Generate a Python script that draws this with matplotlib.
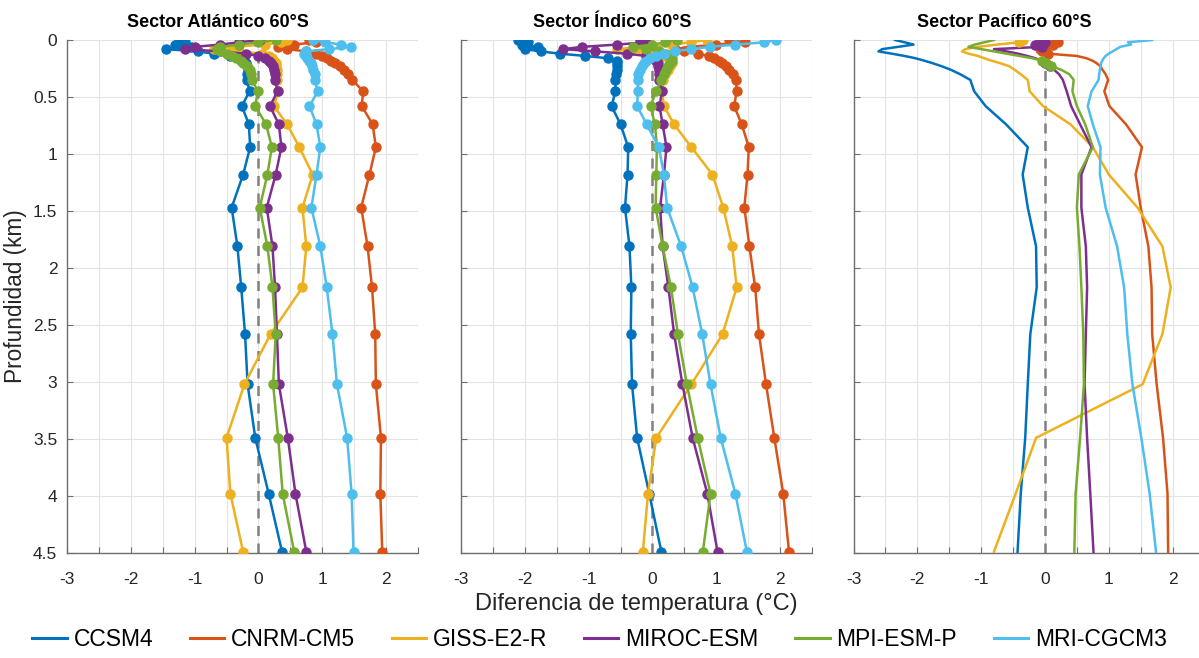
import matplotlib
matplotlib.use('Agg')
import matplotlib.pyplot as plt
from matplotlib.lines import Line2D

plt.rcParams['font.family'] = ['Liberation Sans', 'DejaVu Sans']

models = ['CCSM4', 'CNRM-CM5', 'GISS-E2-R', 'MIROC-ESM', 'MPI-ESM-P', 'MRI-CGCM3']
colors = ['#0072BD', '#D95319', '#EDB120', '#7E2F8E', '#77AC30', '#4DBEEE']
titles = ['Sector Atlántico 60°S', 'Sector Índico 60°S', 'Sector Pacífico 60°S']

# depth levels (km)
depth = [0.00, 0.02, 0.04, 0.06, 0.08, 0.10, 0.12, 0.14, 0.16, 0.18, 0.20, 0.23, 0.26, 0.30,
         0.35, 0.45, 0.58, 0.74, 0.94, 1.18, 1.47, 1.81, 2.17, 2.58, 3.02, 3.49, 3.98, 4.49]

# Atlantic sector
ccsm4_atl = [-1.25, -1.15, -1.30, -1.05, -1.45, -0.95, -0.70, -0.45, -0.30, -0.22, -0.20, -0.18, -0.17, -0.18,
             -0.18, -0.14, -0.26, -0.15, -0.13, -0.24, -0.42, -0.33, -0.27, -0.21, -0.17, -0.05, 0.16, 0.37]
cnrm_atl = [0.80, 0.90, 0.55, 0.30, 0.45, 0.75, 0.90, 1.00, 1.07, 1.13, 1.20, 1.28, 1.34, 1.40,
            1.47, 1.64, 1.62, 1.79, 1.84, 1.74, 1.61, 1.71, 1.78, 1.83, 1.84, 1.92, 1.91, 1.94]
giss_atl = [0.45, 0.35, 0.10, -0.40, -0.70, -0.30, 0.05, 0.17, 0.22, 0.25, 0.27, 0.28, 0.29, 0.29,
            0.29, 0.31, 0.24, 0.45, 0.64, 0.85, 0.69, 0.75, 0.69, 0.19, -0.22, -0.50, -0.44, -0.24]
miroc_atl = [0.02, -0.30, -0.60, -1.00, -1.15, -0.60, -0.20, 0.00, 0.10, 0.16, 0.20, 0.23, 0.25, 0.26,
             0.26, 0.30, 0.18, 0.32, 0.36, 0.27, 0.13, 0.22, 0.26, 0.29, 0.32, 0.46, 0.58, 0.75]
mpi_atl = [0.28, 0.00, -0.30, -0.60, -0.65, -0.60, -0.50, -0.42, -0.35, -0.28, -0.24, -0.18, -0.14, -0.12,
           -0.10, -0.01, -0.05, 0.12, 0.21, 0.14, 0.02, 0.14, 0.22, 0.27, 0.23, 0.31, 0.38, 0.56]
mri_atl = [0.85, 1.05, 1.30, 1.45, 1.10, 0.75, 0.72, 0.74, 0.76, 0.79, 0.82, 0.84, 0.86, 0.88,
           0.88, 0.93, 0.80, 0.91, 0.97, 0.91, 0.83, 0.97, 1.07, 1.16, 1.23, 1.39, 1.46, 1.49]

# Indian sector
ccsm4_ind = [-2.10, -1.95, -2.05, -1.80, -2.00, -1.75, -1.45, -1.05, -0.70, -0.56, -0.55, -0.55, -0.56, -0.57,
             -0.58, -0.58, -0.64, -0.50, -0.38, -0.39, -0.43, -0.36, -0.33, -0.34, -0.32, -0.24, -0.05, 0.14]
cnrm_ind = [1.20, 1.45, 1.00, 0.60, 0.35, 0.50, 0.72, 0.88, 0.97, 1.04, 1.09, 1.15, 1.20, 1.26,
            1.31, 1.32, 1.28, 1.40, 1.51, 1.49, 1.44, 1.52, 1.61, 1.67, 1.78, 1.91, 2.05, 2.14]
giss_ind = [0.85, 0.60, 0.30, -0.20, -0.55, -0.35, -0.05, 0.15, 0.25, 0.28, 0.30, 0.28, 0.24, 0.20,
            0.17, 0.15, 0.18, 0.34, 0.61, 0.94, 1.11, 1.25, 1.32, 1.10, 0.61, 0.06, -0.07, -0.15]
miroc_ind = [-0.20, -0.10, -0.55, -1.10, -1.40, -0.90, -0.40, -0.10, 0.02, 0.06, 0.08, 0.09, 0.10, 0.10,
             0.10, 0.15, 0.11, 0.16, 0.22, 0.18, 0.12, 0.16, 0.25, 0.34, 0.47, 0.63, 0.86, 1.02]
mpi_ind = [0.38, 0.20, 0.00, -0.30, -0.10, 0.10, 0.22, 0.28, 0.30, 0.30, 0.28, 0.25, 0.22, 0.18,
           0.13, 0.06, -0.03, 0.04, 0.07, 0.06, 0.05, 0.16, 0.29, 0.40, 0.54, 0.71, 0.91, 0.79]
mri_ind = [1.94, 1.75, 1.30, 0.90, 0.60, 0.35, 0.18, 0.05, -0.04, -0.10, -0.14, -0.17, -0.20, -0.22,
           -0.23, -0.23, -0.24, -0.09, 0.10, 0.18, 0.23, 0.45, 0.63, 0.78, 0.91, 1.07, 1.30, 1.48]

# Pacific sector
ccsm4_pac = [-2.35, -2.20, -2.06, -2.30, -2.55, -2.61, -2.40, -2.20, -2.03, -1.90, -1.78, -1.62, -1.48, -1.33,
             -1.17, -1.11, -0.93, -0.61, -0.27, -0.35, -0.27, -0.14, -0.13, -0.23, -0.27, -0.31, -0.38, -0.43]
cnrm_pac = [0.15, 0.20, 0.12, 0.00, -0.08, -0.05, 0.05, 0.50, 0.65, 0.74, 0.80, 0.87, 0.90, 0.95,
            0.99, 0.93, 1.01, 1.27, 1.52, 1.42, 1.50, 1.62, 1.67, 1.68, 1.75, 1.85, 1.92, 1.93]
giss_pac = [-0.35, -0.40, -0.75, -1.05, -1.25, -1.30, -1.20, -1.05, -0.95, -0.85, -0.72, -0.56, -0.48, -0.38,
            -0.27, -0.24, -0.03, 0.40, 0.75, 1.00, 1.45, 1.84, 1.97, 1.84, 1.53, -0.14, -0.46, -0.80]
miroc_pac = [-0.08, 0.00, -0.15, -0.05, -0.80, -0.60, -0.42, -0.28, -0.15, -0.06, 0.00, 0.08, 0.14, 0.22,
             0.28, 0.34, 0.41, 0.55, 0.73, 0.57, 0.57, 0.64, 0.66, 0.64, 0.62, 0.66, 0.71, 0.76]
mpi_pac = [-0.80, -0.95, -1.10, -1.20, -1.00, -0.80, -0.60, -0.40, -0.20, -0.05, 0.02, 0.10, 0.25, 0.38,
           0.45, 0.43, 0.50, 0.63, 0.75, 0.53, 0.50, 0.54, 0.57, 0.60, 0.61, 0.55, 0.48, 0.46]
mri_pac = [1.68, 1.30, 1.35, 1.18, 1.12, 1.06, 1.00, 0.95, 0.92, 0.90, 0.88, 0.87, 0.86, 0.85,
           0.84, 0.73, 0.67, 0.75, 0.87, 0.86, 0.95, 1.13, 1.24, 1.29, 1.37, 1.51, 1.64, 1.74]

# levels that carry markers in the Pacific panel
pac_marked = [[], [0, 1, 2, 3, 4, 5, 6], [0, 1], [0, 1, 2, 3, 10, 11], [9, 10, 11], []]

x_ticks = [-3, -2.5, -2, -1.5, -1, -0.5, 0, 0.5, 1, 1.5, 2, 2.5]
x_labels = ['-3', '', '-2', '', '-1', '', '0', '', '1', '', '2', '']
y_ticks = [0, 0.5, 1, 1.5, 2, 2.5, 3, 3.5, 4, 4.5]
y_labels = ['0', '0.5', '1', '1.5', '2', '2.5', '3', '3.5', '4', '4.5']

panels = [
    [ccsm4_atl, cnrm_atl, giss_atl, miroc_atl, mpi_atl, mri_atl],
    [ccsm4_ind, cnrm_ind, giss_ind, miroc_ind, mpi_ind, mri_ind],
    [ccsm4_pac, cnrm_pac, giss_pac, miroc_pac, mpi_pac, mri_pac],
]

fig = plt.figure(figsize=(11.99, 6.58), dpi=100)
lefts = [0.0559, 0.3845, 0.7119]
txt = '#262626'
axcol = '#6e6e6e'

for p, (left, series) in enumerate(zip(lefts, panels)):
    ax = fig.add_axes([left, 0.1596, 0.2927, 0.7796])
    ax.axvline(0, ls='--', color='#808080', lw=1.8, zorder=1, dashes=(4, 3))
    for k, vals in enumerate(series):
        if p < 2:
            ax.plot(vals, depth, color=colors[k], lw=1.8, marker='o', ms=6.5, zorder=2 + k)
        else:
            ax.plot(vals, depth, color=colors[k], lw=1.8, zorder=2 + k)
            if pac_marked[k]:
                ax.plot(vals, depth, color=colors[k], lw=0, marker='o', ms=6.5,
                        markevery=pac_marked[k], zorder=10 + k)
    ax.set_xlim(-3, 2.5)
    ax.set_ylim(4.5, 0)
    ax.set_xticks(x_ticks)
    ax.set_xticklabels(x_labels)
    ax.set_yticks(y_ticks)
    if p == 0:
        ax.set_yticklabels(y_labels)
        ax.set_ylabel('Profundidad (km)', fontsize=16.3, color=txt, labelpad=4)
    else:
        ax.set_yticklabels([])
    if p == 1:
        ax.set_xlabel('Diferencia de temperatura (°C)', fontsize=17, color=txt, labelpad=4)
    ax.set_title(titles[p], fontsize=13, fontweight='bold', color='black', pad=9.5, x=0.43)
    ax.grid(True, color='#e3e3e3', lw=0.8)
    ax.set_axisbelow(True)
    for s in ['top', 'right']:
        ax.spines[s].set_visible(False)
    for s in ['left', 'bottom']:
        ax.spines[s].set_color(axcol)
        ax.spines[s].set_linewidth(1.0)
    ax.tick_params(direction='in', length=4, color=axcol, labelcolor=txt, labelsize=12.5)
    ax.tick_params(axis='x', pad=14)
    ax.tick_params(axis='y', pad=7)

handles = [Line2D([], [], color=c, lw=2.2) for c in colors]
fig.legend(handles, models, loc='center', bbox_to_anchor=(0.5, 0.028), ncol=6, frameon=False,
           fontsize=16.5, handlelength=1.5, handletextpad=0.3, columnspacing=1.6)

fig.savefig('out.png', dpi=100)
